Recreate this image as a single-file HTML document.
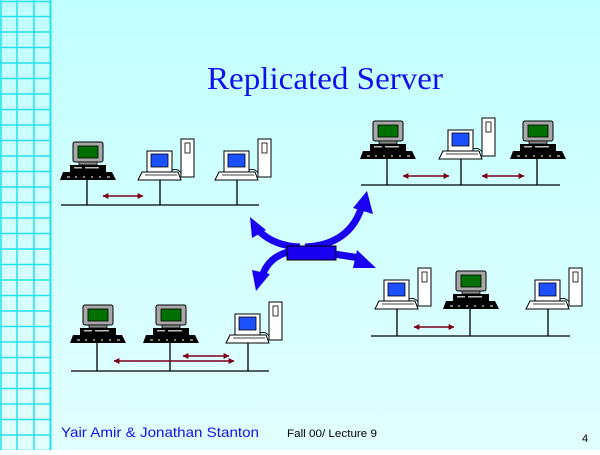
<!DOCTYPE html>
<html><head><meta charset="utf-8"><style>
html,body{margin:0;padding:0;}
body{width:600px;height:450px;overflow:hidden;}
</style></head><body>
<svg width="600" height="450" viewBox="0 0 600 450" xmlns="http://www.w3.org/2000/svg">
<defs>
<linearGradient id="bg" x1="0" y1="0" x2="0" y2="1">
<stop offset="0" stop-color="#c2ffff"/><stop offset="1" stop-color="#e2ffff"/>
</linearGradient>
<g id="ws">
<rect x="-14" y="-38" width="30" height="20" rx="2" fill="#a8a8a8" stroke="#000" stroke-width="1"/>
<rect x="-9" y="-34" width="20" height="12" fill="#007000" stroke="#000" stroke-width="0.8"/>
<rect x="-8" y="-18" width="18" height="3" fill="#888" stroke="#000" stroke-width="0.8"/>
<rect x="-17" y="-15" width="36" height="8" fill="#000"/>
<rect x="-13" y="-13" width="8" height="1.5" fill="#bbb"/><rect x="-2" y="-13" width="14" height="1.5" fill="#bbb"/>
<polygon points="-24,-8 25,-8 29,0 -27,0" fill="#000"/>
<path d="M-20,-3 h3 M-12,-3 h2 M-4,-3 h2 M4,-3 h2 M12,-3 h2 M20,-3 h3" stroke="#fff" stroke-width="1"/>
</g>
<g id="pc">
<rect x="-13" y="-29" width="25" height="21" fill="#fff" stroke="#000" stroke-width="1"/>
<rect x="-9" y="-26" width="17" height="13" fill="#1a50ff" stroke="#000" stroke-width="0.8"/>
<rect x="21" y="-41" width="13" height="38" fill="#fff" stroke="#000" stroke-width="1"/>
<rect x="25" y="-37" width="5" height="10" fill="#fff" stroke="#000" stroke-width="0.8"/>
<path d="M12,-10 q6,-2 9,3" fill="none" stroke="#000" stroke-width="0.8"/>
<polygon points="-18,-8 18,-8 21,0 -22,0" fill="#fff" stroke="#000" stroke-width="1"/>
<path d="M-15,-5 h32" stroke="#000" stroke-width="0.7"/>
</g>
<marker id="rh" viewBox="0 0 10 10" refX="9" refY="5" markerWidth="4" markerHeight="4" orient="auto-start-reverse">
<path d="M0,0 L10,5 L0,10 z" fill="#7a0018"/>
</marker>
</defs>
<rect width="600" height="450" fill="url(#bg)"/>
<g stroke="#22e0ee" stroke-width="1.5">
<line x1="1" y1="0" x2="1" y2="450"/><line x1="17" y1="0" x2="17" y2="450"/><line x1="34" y1="0" x2="34" y2="450"/><line x1="50.5" y1="0" x2="50.5" y2="450" stroke-width="2"/>
<path d="M0,1.5H51 M0,16.5H51 M0,32H51 M0,47.5H51 M0,63H51 M0,78.5H51 M0,94H51 M0,109.5H51 M0,125H51 M0,140.5H51 M0,156H51 M0,171.5H51 M0,187H51 M0,202.5H51 M0,218H51 M0,233.5H51 M0,249H51 M0,264.5H51 M0,280H51 M0,295.5H51 M0,311H51 M0,326.5H51 M0,342H51 M0,357.5H51 M0,373H51 M0,388.5H51 M0,404H51 M0,419.5H51 M0,435H51 M0,450.5H51"/>
</g>
<text x="207" y="89" font-family="Liberation Serif, serif" font-size="32" fill="#1010ee" textLength="236" lengthAdjust="spacingAndGlyphs">Replicated Server</text>

<g stroke="#000" stroke-width="1.3">
<!-- group1 -->
<path d="M61,205H259 M87,180V205 M160,180V205 M237,180V205"/>
<!-- group2 -->
<path d="M361,185H560 M387,159V185 M461,159V185 M537,159V185"/>
<!-- group3 -->
<path d="M371,336H570 M397,309V336 M470,309V336 M548,309V336"/>
<!-- group4 -->
<path d="M71,371H269 M97,343V371 M170,343V371 M248,343V371"/>
</g>
<use href="#ws" x="87" y="180"/><use href="#pc" x="160" y="180"/><use href="#pc" x="237" y="180"/>
<use href="#ws" x="387" y="159"/><use href="#pc" x="461" y="159"/><use href="#ws" x="537" y="159"/>
<use href="#pc" x="397" y="309"/><use href="#ws" x="470" y="309"/><use href="#pc" x="548" y="309"/>
<use href="#ws" x="97" y="343"/><use href="#ws" x="170" y="343"/><use href="#pc" x="248" y="343"/>

<g stroke="#7a0018" stroke-width="1.5" marker-start="url(#rh)" marker-end="url(#rh)">
<line x1="103" y1="196" x2="143" y2="196"/>
<line x1="403" y1="176" x2="449" y2="176"/>
<line x1="482" y1="176" x2="524" y2="176"/>
<line x1="414" y1="327" x2="454" y2="327"/>
<line x1="114" y1="361" x2="234" y2="361"/>
<line x1="183" y1="356" x2="229" y2="356"/>
</g>

<!-- central blue arrows -->
<g fill="none" stroke="#1a00f0" stroke-width="7">
<path d="M305,247 Q350,245 362,206"/>
<path d="M300,247 Q275,246 260,232"/>
<path d="M292,251 Q268,256 262,277"/>
<path d="M334,254 L360,258"/>
</g>
<g fill="#1a00f0">
<polygon points="367,191 373,214 353,208"/>
<polygon points="250,217 266,230 252,238"/>
<polygon points="256,291 252,270 270,274"/>
<polygon points="376,268 353,268 357,250"/>
<rect x="287" y="246" width="49" height="14" stroke="#000" stroke-width="1"/>
</g>

<text x="61" y="437" font-family="Liberation Sans, sans-serif" font-size="14" fill="#1010ee" textLength="198" lengthAdjust="spacingAndGlyphs">Yair Amir &amp; Jonathan Stanton</text>
<text x="287" y="437" font-family="Liberation Sans, sans-serif" font-size="11" fill="#000" textLength="90" lengthAdjust="spacingAndGlyphs">Fall 00/ Lecture 9</text>
<text x="582" y="442" font-family="Liberation Sans, sans-serif" font-size="11" fill="#000">4</text>
</svg>
</body></html>
